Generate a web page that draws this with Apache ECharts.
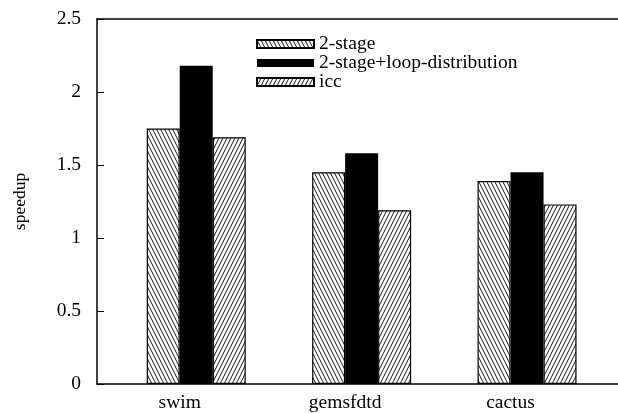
<!DOCTYPE html>
<html>
<head>
<meta charset="utf-8">
<script src="https://cdn.jsdelivr.net/npm/echarts@6/dist/echarts.min.js"></script>
<style>
  html, body { margin: 0; padding: 0; background: #fff; }
  #chart { width: 618px; height: 413px; }
</style>
</head>
<body>
<div id="chart"></div>
<script>
// Benchmarks and measured speedups
const categories = ['swim', 'gemsfdtd', 'cactus'];
const seriesNames = ['2-stage', '2-stage+loop-distribution', 'icc'];
const twoStage = [1.75, 1.45, 1.39];
const twoStageLoopDist = [2.18, 1.58, 1.45];
const icc = [1.69, 1.19, 1.23];
const yTicks = [0, 0.5, 1, 1.5, 2, 2.5];

const FONT = "'Liberation Serif', 'DejaVu Serif', serif";

// Hatched fill tile: 'back' = lines falling to the right, 'fwd' = rising to the right
function hatch(dir) {
  const w = 4, h = 8;
  const c = document.createElement('canvas');
  c.width = w; c.height = h;
  const ctx = c.getContext('2d');
  ctx.fillStyle = '#fff';
  ctx.fillRect(0, 0, w, h);
  ctx.strokeStyle = '#000';
  ctx.lineWidth = 0.9;
  ctx.beginPath();
  for (let k = -1; k <= 1; k++) {
    if (dir === 'back') {
      ctx.moveTo(k * w, 0); ctx.lineTo(k * w + w, h);
    } else {
      ctx.moveTo(k * w + w, 0); ctx.lineTo(k * w, h);
    }
  }
  ctx.stroke();
  return { image: c, repeat: 'repeat' };
}

const toPoints = arr => arr.map((v, i) => [i, v]);
const labelPositions = categories.map((_, i) => i - 0.1);

const chart = echarts.init(document.getElementById('chart'), null, { renderer: 'canvas' });

const xMin = -0.6, xMax = 2.55;

chart.setOption({
  backgroundColor: '#fff',
  animation: false,
  textStyle: { fontFamily: FONT, color: '#000' },
  grid: { left: 97, right: 0, top: 19, bottom: 28, containLabel: false },
  legend: {
    orient: 'vertical',
    left: 251,
    top: 29,
    itemWidth: 57,
    itemHeight: 8,
    itemGap: -1,
    icon: 'rect',
    data: seriesNames,
    textStyle: { fontFamily: FONT, fontSize: 19.5, color: '#000', lineHeight: 19, padding: [0, 0, 0, 0] }
  },
  xAxis: [
    {
      type: 'value',
      position: 'bottom',
      min: xMin,
      max: xMax,
      axisLine: { show: true, onZero: false, lineStyle: { color: '#000', width: 1.5 } },
      axisTick: { show: false },
      splitLine: { show: false },
      axisLabel: {
        customValues: labelPositions,
        formatter: v => categories[Math.round(v)] || '',
        fontFamily: FONT,
        fontSize: 19.5,
        color: '#000',
        margin: 9
      }
    },
    {
      type: 'value',
      position: 'top',
      min: xMin,
      max: xMax,
      axisLine: { show: true, onZero: false, lineStyle: { color: '#000', width: 1.5 } },
      axisTick: { show: false },
      axisLabel: { show: false },
      splitLine: { show: false }
    }
  ],
  yAxis: {
    type: 'value',
    position: 'left',
    min: yTicks[0],
    max: yTicks[yTicks.length - 1],
    interval: 0.5,
    name: 'speedup',
    nameLocation: 'middle',
    nameRotate: 90,
    nameGap: 68,
    nameTextStyle: { fontFamily: FONT, fontSize: 17.5, color: '#000' },
    axisLine: { show: true, onZero: false, lineStyle: { color: '#000', width: 1.5 } },
    axisTick: { show: true, inside: true, length: 7, lineStyle: { color: '#000', width: 1 } },
    splitLine: { show: false },
    axisLabel: { fontFamily: FONT, fontSize: 19.5, color: '#000', margin: 16 }
  },
  series: [
    {
      name: seriesNames[0],
      type: 'bar',
      barWidth: 33,
      barGap: '0%',
      data: toPoints(twoStage),
      itemStyle: { color: hatch('back'), borderColor: '#000', borderWidth: 1.2 }
    },
    {
      name: seriesNames[1],
      type: 'bar',
      barWidth: 33,
      barGap: '0%',
      data: toPoints(twoStageLoopDist),
      itemStyle: { color: '#000', borderColor: '#000', borderWidth: 0 }
    },
    {
      name: seriesNames[2],
      type: 'bar',
      barWidth: 33,
      barGap: '0%',
      data: toPoints(icc),
      itemStyle: { color: hatch('fwd'), borderColor: '#000', borderWidth: 1.2 }
    }
  ]
});
</script>
</body>
</html>
